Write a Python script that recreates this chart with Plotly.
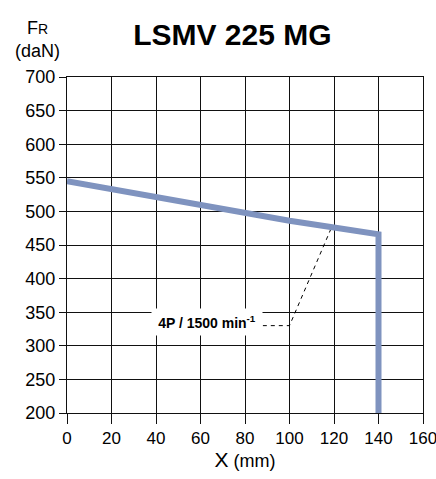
import plotly.graph_objects as go

x_mm = [0, 20, 40, 60, 80, 100, 120, 140, 140]
fr_dan = [545, 533, 521, 509, 497, 486, 476, 466, 200]

leader_x = [88, 100, 119]
leader_y = [330, 330, 477]

x_ticks = [0, 20, 40, 60, 80, 100, 120, 140, 160]
y_ticks = [200, 250, 300, 350, 400, 450, 500, 550, 600, 650, 700]

FONT = "Liberation Sans, Arial"

fig = go.Figure()
fig.add_trace(go.Scatter(x=leader_x, y=leader_y, mode="lines",
                         line=dict(color="black", width=1, dash="4px,4px"),
                         hoverinfo="skip", showlegend=False))
fig.add_trace(go.Scatter(x=x_mm, y=fr_dan, mode="lines",
                         line=dict(color="#7f93bf", width=6),
                         showlegend=False))

fig.add_annotation(x=63, y=336, xref="x", yref="y",
                   text="<b>4P / 1500 min<sup>-1</sup></b>",
                   showarrow=False, bgcolor="white",
                   font=dict(family=FONT, size=14, color="black"),
                   borderpad=3, width=104, height=20)

fig.add_annotation(x=-0.0824, y=1.113, xref="paper", yref="paper", xanchor="center", yanchor="middle",
                   text="F<span style='font-size:14px'>R</span><br>(daN)", showarrow=False,
                   align="center", font=dict(family=FONT, size=18, color="black"))

fig.update_layout(
    width=436, height=479,
    margin=dict(l=67, r=13, t=77, b=66),
    paper_bgcolor="white", plot_bgcolor="white",
    font=dict(family=FONT, size=17, color="black"),
    title=dict(text="<b>LSMV 225 MG</b>", x=0.533, xanchor="center", y=0.929, yanchor="middle",
               font=dict(family=FONT, size=30, color="black")),
    xaxis=dict(range=[0, 160], tickvals=x_ticks, showgrid=True, gridcolor="#111", gridwidth=1,
               zeroline=False, showline=True, linecolor="#111", mirror=True, automargin=False,
               ticks="outside", ticklen=10, tickcolor="#111", ticklabeloverflow="allow",
               tickfont=dict(size=17),
               title=dict(text="<span style='font-size:21px'>X</span> (mm)", standoff=6,
                          font=dict(size=18))),
    yaxis=dict(range=[200, 700], tickvals=y_ticks, showgrid=True, gridcolor="#111", gridwidth=1,
               zeroline=False, showline=True, linecolor="#111", mirror=True, automargin=False,
               ticks="outside", ticklen=7, tickcolor="#111", ticklabeloverflow="allow",
               tickfont=dict(size=18)),
)
fig.update_xaxes(fixedrange=True)
fig.update_yaxes(fixedrange=True)
fig.write_html("out.html", config={"displayModeBar": False},
               post_script="document.body.style.margin='0';document.body.style.padding='0';"
                           "document.documentElement.style.overflow='hidden';")
